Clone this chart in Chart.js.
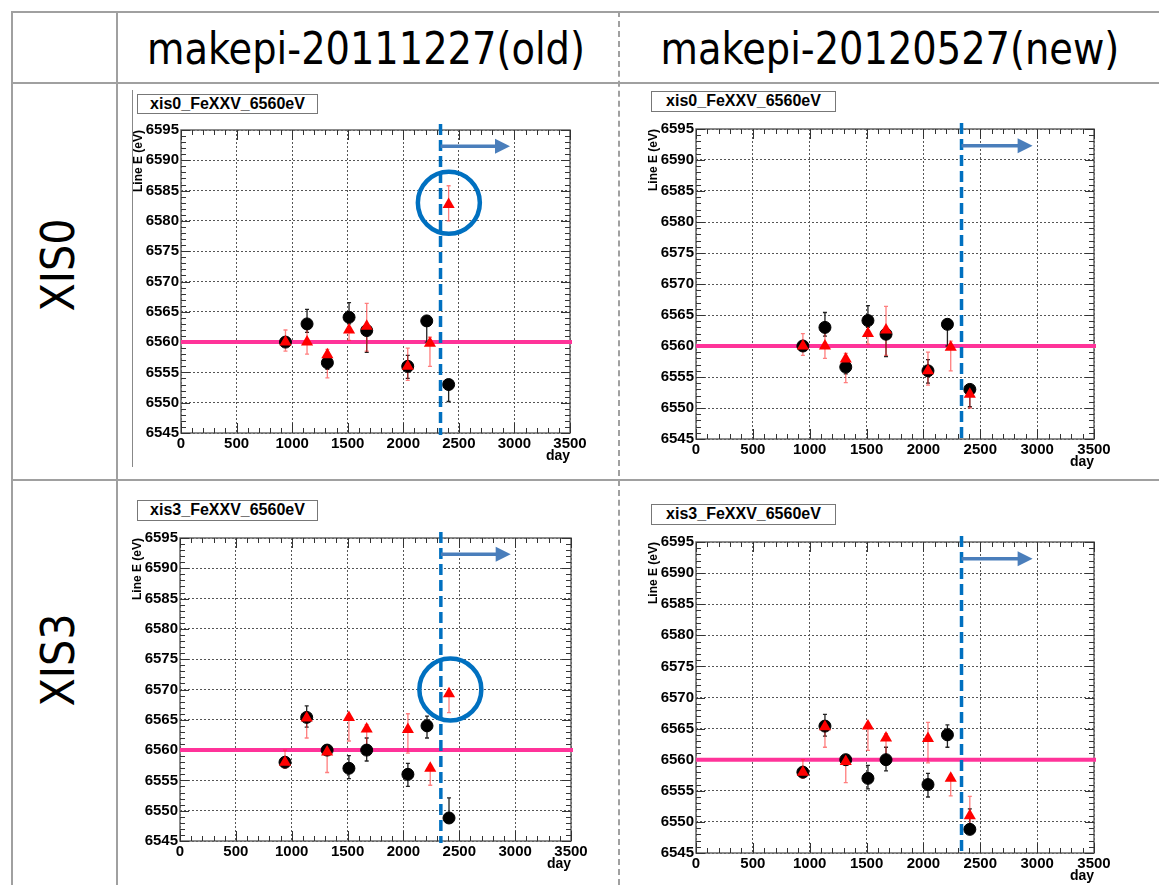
<!DOCTYPE html>
<html>
<head>
<meta charset="utf-8">
<script src="https://cdn.jsdelivr.net/npm/chart.js@4.4.1/dist/chart.umd.min.js"></script>
<style>
  body { margin: 0; background: #fff; width: 1159px; height: 885px; overflow: hidden; position: relative; }
  .ln { position: absolute; background: #a0a0a0; }
  .dash { position: absolute; border-left: 2px dashed #a0a0a0; }
  .hdr { position: absolute; top: 26px; font-family: "Liberation Sans Narrow", "DejaVu Sans Condensed", sans-serif;
         font-size: 45px; line-height: 45px; white-space: nowrap; color: #000; transform-origin: center; }
  .row { position: absolute; font-family: "Liberation Sans Narrow", "DejaVu Sans Condensed", sans-serif;
         font-size: 46px; line-height: 46px; white-space: nowrap; transform: translate(-50%, -50%) rotate(-90deg); }
  .tbox { position: absolute; border: 1.5px solid #777; box-sizing: border-box; background: #fff;
          font: bold 16px "Liberation Sans", Arial, sans-serif; text-align: center; line-height: 18px; }
  canvas { position: absolute; }
</style>
</head>
<body>
<div class="ln" style="left:11px;top:11px;width:1148px;height:2px"></div>
<div class="ln" style="left:11px;top:11px;width:2px;height:874px"></div>
<div class="ln" style="left:116px;top:11px;width:2px;height:874px"></div>
<div class="ln" style="left:11px;top:82px;width:1148px;height:2px"></div>
<div class="ln" style="left:11px;top:479px;width:1148px;height:2px"></div>
<div class="dash" style="left:618px;top:11px;height:874px"></div>
<div class="ln" style="left:132px;top:90px;width:1px;height:377px;background:#888"></div>

<span class="hdr" id="h1">makepi-20111227(old)</span>
<span class="hdr" id="h2">makepi-20120527(new)</span>
<div class="row" style="left:58px;top:265px">XIS0</div>
<div class="row" style="left:58px;top:660px">XIS3</div>

<div class="tbox" style="left:137px;top:94px;width:181px;height:20px">xis0_FeXXV_6560eV</div>
<div class="tbox" style="left:651px;top:91px;width:185px;height:21px">xis0_FeXXV_6560eV</div>
<div class="tbox" style="left:137px;top:500px;width:181px;height:21px">xis3_FeXXV_6560eV</div>
<div class="tbox" style="left:651px;top:504px;width:185px;height:21px">xis3_FeXXV_6560eV</div>

<canvas id="c1"></canvas>
<canvas id="c2"></canvas>
<canvas id="c3"></canvas>
<canvas id="c4"></canvas>

<script>
// observation days
const blackDays = [940, 1134, 1317, 1512, 1671, 2040, 2211, 2408];
const redDays = [940, 1134, 1317, 1512, 1671, 2040, 2240, 2408];

// XIS0 black (same in old and new)
const xis0Black = [6560.0, 6563.0, 6556.6, 6564.1, 6561.9, 6556.0, 6563.5, 6553.0];
const xis0BlackLo = [6559.3, 6561.6, 6555.5, 6563.0, 6558.3, 6554.0, 6560.0, 6550.2];
const xis0BlackHi = [6560.7, 6565.4, 6557.6, 6566.5, 6562.6, 6557.8, 6564.3, 6553.6];
// XIS0 red, old makepi
const xis0OldRed = [6560.0, 6560.0, 6557.9, 6562.0, 6562.6, 6556.0, 6559.8, 6582.7];
const xis0OldRedLo = [6558.5, 6558.0, 6554.1, 6560.3, 6558.5, 6553.7, 6556.0, 6580.0];
const xis0OldRedHi = [6562.0, 6563.6, 6558.8, 6564.0, 6566.4, 6559.0, 6560.8, 6585.8];
// XIS0 red, new makepi
const xis0NewRed = [6560.0, 6560.0, 6557.9, 6562.0, 6562.6, 6556.0, 6559.8, 6552.2];
const xis0NewRedLo = [6558.5, 6558.0, 6554.1, 6560.3, 6558.5, 6553.7, 6556.0, 6550.0];
const xis0NewRedHi = [6562.0, 6563.6, 6558.8, 6564.0, 6566.4, 6559.0, 6560.8, 6553.0];

// XIS3 black
const xis3Black = [6558.0, 6565.4, 6560.0, 6557.0, 6560.0, 6556.0, 6564.0, 6548.8];
const xis3BlackLo = [6557.3, 6563.8, 6559.5, 6555.3, 6558.2, 6554.0, 6562.0, 6548.2];
const xis3BlackHi = [6558.7, 6567.3, 6560.6, 6559.1, 6562.0, 6557.8, 6565.6, 6552.1];
// XIS3 red, old
const xis3OldRed = [6558.0, 6565.3, 6559.7, 6565.4, 6563.5, 6563.4, 6557.0, 6569.3];
const xis3OldRedLo = [6557.0, 6562.0, 6556.3, 6561.5, 6560.5, 6559.5, 6554.2, 6566.2];
const xis3OldRedHi = [6560.0, 6565.7, 6560.3, 6565.6, 6564.2, 6566.0, 6557.5, 6569.8];
// XIS3 red, new
const xis3NewRed = [6558.0, 6565.3, 6559.7, 6565.4, 6563.5, 6563.4, 6557.0, 6551.0];
const xis3NewRedLo = [6557.0, 6562.0, 6556.3, 6561.5, 6560.5, 6559.5, 6554.2, 6548.6];
const xis3NewRedHi = [6560.0, 6565.7, 6560.3, 6565.6, 6564.2, 6566.0, 6557.5, 6554.1];

// reference energy, cut day and annotation anchors
const refEnergy = 6560;
const cutDay = 2335;
const arrowToDay = 2960;
const arrowEnergy = 6592.3;
const xis0Circle = [2410, 6583];
const xis3Circle = [2420, 6570];

const xTicks = [0, 3500, 500];
const yTicks = [6545, 6595, 5];

const rootDecor = {
  id: 'rootDecor',
  beforeDatasetsDraw(chart, args, opts) {
    const { ctx, chartArea: a, scales: { x, y } } = chart;
    ctx.save();
    ctx.strokeStyle = '#666';
    ctx.lineWidth = 1.5;
    ctx.strokeRect(a.left, a.top, a.right - a.left, a.bottom - a.top);

    // ROOT style inside ticks on all four sides
    ctx.strokeStyle = '#333';
    ctx.lineWidth = 1;
    ctx.beginPath();
    for (let d = x.min; d <= x.max; d += 100) {
      const px = Math.round(x.getPixelForValue(d)) + 0.5;
      const len = d % 500 === 0 ? 10 : 5;
      ctx.moveTo(px, a.bottom); ctx.lineTo(px, a.bottom - len);
      ctx.moveTo(px, a.top); ctx.lineTo(px, a.top + len);
    }
    for (let e = y.min; e <= y.max; e += 1) {
      const py = Math.round(y.getPixelForValue(e)) + 0.5;
      const len = (e - y.min) % 5 === 0 ? 9 : 5;
      ctx.moveTo(a.left, py); ctx.lineTo(a.left + len, py);
      ctx.moveTo(a.right, py); ctx.lineTo(a.right - len, py);
    }
    ctx.stroke();

    // reference line
    const ry = y.getPixelForValue(opts.ref);
    ctx.strokeStyle = '#ff3399';
    ctx.lineWidth = 4;
    ctx.beginPath();
    ctx.moveTo(x.getPixelForValue(x.min), ry);
    ctx.lineTo(x.getPixelForValue(x.max) + 2, ry);
    ctx.stroke();

    // error bars
    chart.data.datasets.forEach((ds, i) => {
      const meta = chart.getDatasetMeta(i);
      ctx.strokeStyle = ds.errColor;
      ctx.lineWidth = 1.3;
      meta.data.forEach((pt, j) => {
        const lo = y.getPixelForValue(ds.errLo[j]);
        const hi = y.getPixelForValue(ds.errHi[j]);
        ctx.beginPath();
        ctx.moveTo(pt.x, lo); ctx.lineTo(pt.x, hi);
        ctx.moveTo(pt.x - 2, lo); ctx.lineTo(pt.x + 2, lo);
        ctx.moveTo(pt.x - 2, hi); ctx.lineTo(pt.x + 2, hi);
        ctx.stroke();
      });
    });
    ctx.restore();
  },
  afterDatasetsDraw(chart, args, opts) {
    const { ctx, chartArea: a, scales: { x, y } } = chart;
    ctx.save();
    // cut line
    const cx = x.getPixelForValue(opts.cut);
    ctx.strokeStyle = '#0070c0';
    ctx.lineWidth = 3.5;
    ctx.setLineDash([11, 5]);
    ctx.beginPath();
    ctx.moveTo(cx, a.top - 6);
    ctx.lineTo(cx, a.bottom + 2);
    ctx.stroke();
    ctx.setLineDash([]);

    // arrow
    const ay = y.getPixelForValue(opts.arrowY);
    const ax2 = x.getPixelForValue(opts.arrowTo);
    ctx.strokeStyle = '#4a7ebb';
    ctx.fillStyle = '#4a7ebb';
    ctx.lineWidth = 3.5;
    ctx.beginPath();
    ctx.moveTo(cx, ay);
    ctx.lineTo(ax2 - 14, ay);
    ctx.stroke();
    ctx.beginPath();
    ctx.moveTo(ax2, ay);
    ctx.lineTo(ax2 - 15, ay - 7.5);
    ctx.lineTo(ax2 - 15, ay + 7.5);
    ctx.closePath();
    ctx.fill();

    // circle around the outlier
    if (opts.circle) {
      ctx.strokeStyle = '#0070c0';
      ctx.lineWidth = 4.5;
      ctx.beginPath();
      ctx.arc(x.getPixelForValue(opts.circle[0]), y.getPixelForValue(opts.circle[1]), 31, 0, Math.PI * 2);
      ctx.stroke();
    }
    ctx.restore();
  }
};

function toPoints(days, vals) {
  return days.map((d, i) => ({ x: d, y: vals[i] }));
}

function makePanel(id, box, black, blackLo, blackHi, red, redLo, redHi, circle) {
  const cv = document.getElementById(id);
  const padTop = 12, yW = 50, padRight = 40, xH = 32;
  cv.style.left = (box.L - yW) + 'px';
  cv.style.top = (box.T - padTop) + 'px';
  cv.width = box.R - box.L + yW + padRight;
  cv.height = box.B - box.T + padTop + xH;

  const tickFont = { family: '"Liberation Sans", Arial, sans-serif', size: 15, weight: 'bold' };
  new Chart(cv.getContext('2d'), {
    type: 'scatter',
    data: {
      datasets: [{
        data: toPoints(blackDays, black),
        errLo: blackLo, errHi: blackHi, errColor: '#222',
        pointStyle: 'circle', pointRadius: 6,
        backgroundColor: '#000', borderColor: '#000',
        order: 2,
      }, {
        data: toPoints(redDays, red),
        errLo: redLo, errHi: redHi, errColor: 'rgba(255, 40, 40, 0.6)',
        pointStyle: 'triangle', pointRadius: 7,
        backgroundColor: '#ff0000', borderColor: '#ff0000', borderWidth: 0,
        order: 1,
      }],
    },
    options: {
      responsive: false,
      animation: false,
      devicePixelRatio: 1,
      layout: { padding: { top: padTop, right: padRight, left: 0, bottom: 0 } },
      plugins: {
        legend: { display: false },
        tooltip: { enabled: false },
        rootDecor: { ref: refEnergy, cut: cutDay, arrowTo: arrowToDay, arrowY: arrowEnergy, circle: circle },
      },
      scales: {
        x: {
          type: 'linear', min: xTicks[0], max: xTicks[1],
          ticks: { stepSize: xTicks[2], color: '#000', font: tickFont, padding: 2, maxRotation: 0,
                   callback: v => String(v) },
          grid: { color: '#555', lineWidth: 1, drawTicks: false },
          border: { display: false, dash: [2, 2] },
          title: { display: true, text: 'day', align: 'end', color: '#000', padding: 0,
                   font: { family: '"Liberation Sans", Arial, sans-serif', size: 14, weight: 'bold' } },
          afterFit: s => { s.height = xH; },
        },
        y: {
          min: yTicks[0], max: yTicks[1],
          ticks: { stepSize: yTicks[2], color: '#000', font: tickFont, padding: 2,
                   callback: v => String(v) },
          grid: { color: '#555', lineWidth: 1, drawTicks: false },
          border: { display: false, dash: [2, 2] },
          title: { display: true, text: 'Line E (eV)', align: 'end', color: '#000', padding: 0,
                   font: { family: '"Liberation Sans", Arial, sans-serif', size: 12, weight: 'bold' } },
          afterFit: s => { s.width = yW; },
        },
      },
    },
    plugins: [rootDecor],
  });
}

makePanel('c1', { L: 181, T: 130, R: 570, B: 433 }, xis0Black, xis0BlackLo, xis0BlackHi, xis0OldRed, xis0OldRedLo, xis0OldRedHi, xis0Circle);
makePanel('c2', { L: 696, T: 129, R: 1094, B: 439 }, xis0Black, xis0BlackLo, xis0BlackHi, xis0NewRed, xis0NewRedLo, xis0NewRedHi, null);
makePanel('c3', { L: 180, T: 538, R: 571, B: 841 }, xis3Black, xis3BlackLo, xis3BlackHi, xis3OldRed, xis3OldRedLo, xis3OldRedHi, xis3Circle);
makePanel('c4', { L: 696, T: 542, R: 1094, B: 853 }, xis3Black, xis3BlackLo, xis3BlackHi, xis3NewRed, xis3NewRedLo, xis3NewRedHi, null);

// header text: stretch to the width of the original lettering
const h1 = document.getElementById('h1');
const h2 = document.getElementById('h2');
const sx = 438 / h1.offsetWidth;
[[h1, 366], [h2, 890]].forEach(([el, cxPos]) => {
  el.style.left = (cxPos - el.offsetWidth / 2) + 'px';
  el.style.transform = 'scaleX(' + sx + ')';
});
</script>
</body>
</html>
